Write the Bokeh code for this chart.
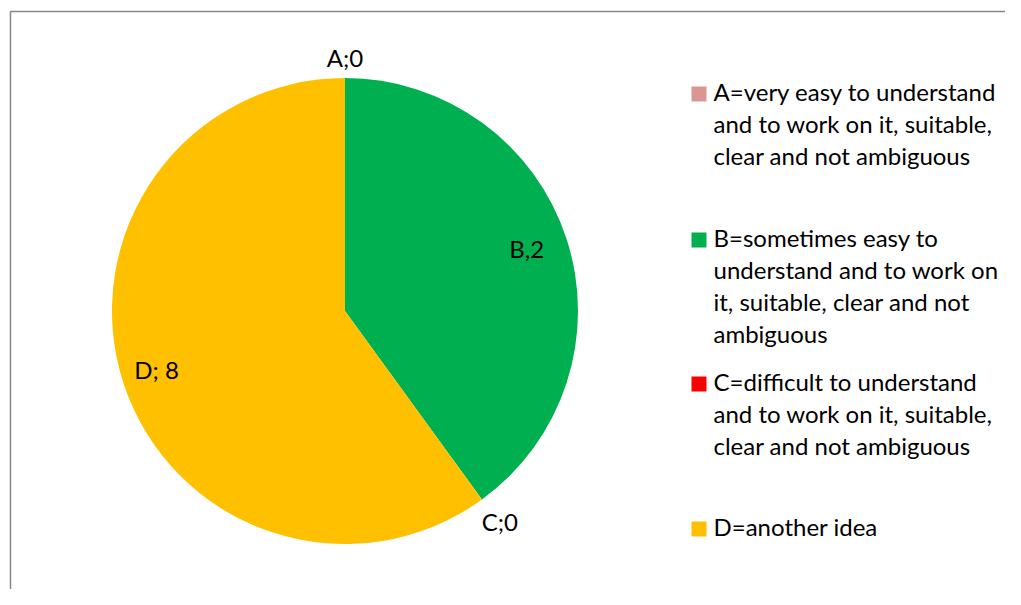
import math
from bokeh.plotting import figure
from bokeh.models import Range1d
from bokeh.core.properties import value
from bokeh.embed import file_html
from bokeh.resources import INLINE

# ---- data ----
categories = ["A", "B", "C", "D"]
values = [0, 2, 0, 3]
data_labels = ["A;0", "B,2", "C;0", "D; 8"]
legend_lines = [
    ["A=very easy to understand", "and to work on it, suitable,", "clear and not ambiguous"],
    ["B=sometimes easy to", "understand and to work on", "it, suitable, clear and not", "ambiguous"],
    ["C=difficult  to understand", "and to work on it, suitable,", "clear and not ambiguous"],
    ["D=another idea"],
]
colors = ["#D99694", "#00B050", "#FF0000", "#FFC000"]

# ---- layout (screen px) ----
W, H = 1005, 589
FONT = "Lato"
FS = "24px"
TXT_SHIFT = 3  # px upward nudge for text


def sx(x):
    return x


def sy(y):
    return H - y


cx, cy, R = sx(344.5), sy(310.5), 233
label_r = [1.075, 0.82, 1.13, 0.85]
legend_first_y = [93.5, 239.5, 383.5, 528.5]
line_gap = 32
sq_x, sq_size = sx(698.5), 15
txt_x = sx(713)

p = figure(width=W, height=H, output_backend="svg", toolbar_location=None,
           x_range=Range1d(0, W), y_range=Range1d(0, H), min_border=0)
p.axis.visible = False
p.grid.visible = False
p.outline_line_color = None
p.background_fill_color = "white"
p.border_fill_color = "white"

# frame (right/bottom edges fall outside the page)
p.quad(left=[sx(10)], right=[W + 50], top=[sy(11)], bottom=[-50],
       fill_color=None, line_color="#878787", line_width=1.5)

total = sum(values)
cum = 0.0
ws, we, wc = [], [], []
lx, ly, lt = [], [], []
for i, v in enumerate(values):
    a0 = math.pi / 2 - 2 * math.pi * cum / total
    cum += v
    a1 = math.pi / 2 - 2 * math.pi * cum / total
    if v > 0:
        ws.append(a0)
        we.append(a1)
        wc.append(colors[i])
    mid = (a0 + a1) / 2
    lx.append(cx + label_r[i] * R * math.cos(mid))
    ly.append(cy + label_r[i] * R * math.sin(mid) + TXT_SHIFT)
    lt.append(data_labels[i])

p.wedge(x=cx, y=cy, radius=R, start_angle=ws, end_angle=we, direction="clock",
        fill_color=wc, line_color=None)

p.text(x=lx, y=ly, text=lt, text_font=value(FONT), text_font_size=FS,
       text_align="center", text_baseline="middle", text_color="black")

# legend
qx, qy, qc = [], [], []
tx, ty, tt = [], [], []
for i, lines in enumerate(legend_lines):
    qx.append(sq_x)
    qy.append(sy(legend_first_y[i]))
    qc.append(colors[i])
    for j, s in enumerate(lines):
        tx.append(txt_x)
        ty.append(sy(legend_first_y[i] + j * line_gap) + TXT_SHIFT)
        tt.append(s)

p.rect(x=qx, y=qy, width=sq_size, height=sq_size, fill_color=qc, line_color=None)
p.text(x=tx, y=ty, text=tt, text_font=value(FONT), text_font_size=FS,
       text_align="left", text_baseline="middle", text_color="black")

open("out.html", "w").write(file_html(p, INLINE))
